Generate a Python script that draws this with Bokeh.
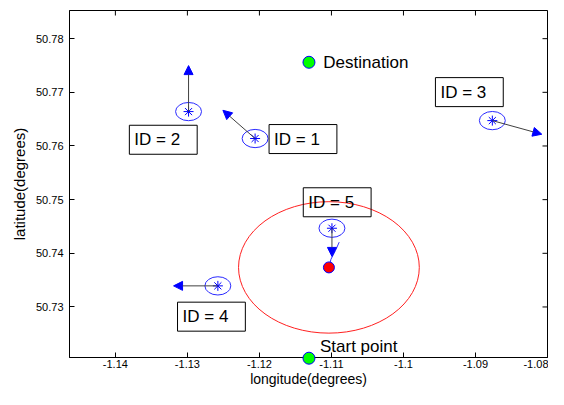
import math
from bokeh.plotting import figure
from bokeh.models import Range1d, FixedTicker, ColumnDataSource, Arrow, NormalHead
from bokeh.core.properties import value
from bokeh.embed import file_html
from bokeh.resources import INLINE

# ---- axes ----
x_ticks = [-1.14, -1.13, -1.12, -1.11, -1.10, -1.09, -1.08]
x_tick_labels = ["-1.14", "-1.13", "-1.12", "-1.11", "-1.1", "-1.09", "-1.08"]
y_ticks = [50.73, 50.74, 50.75, 50.76, 50.77, 50.78]
y_tick_labels = ["50.73", "50.74", "50.75", "50.76", "50.77", "50.78"]
x_limits = [-1.14637, -1.08]
y_limits = [50.72058, 50.78525]

# ---- agents ----
agent_ids = ["ID = 1", "ID = 2", "ID = 3", "ID = 4", "ID = 5"]
agent_lon = [-1.12060, -1.12984, -1.08766, -1.12577, -1.10993]
agent_lat = [50.76139, 50.76641, 50.76473, 50.73393, 50.74467]
heading_lon = [-1.12507, -1.12984, -1.08079, -1.13192, -1.10993]
heading_lat = [50.76665, 50.77498, 50.76219, 50.73393, 50.73942]
uncert_w = [0.0036, 0.0036, 0.0036, 0.0036, 0.0036]
uncert_h = [0.0034, 0.0034, 0.0034, 0.0034, 0.0034]
label_lon = [-1.11866, -1.13806, -1.09556, -1.13137, -1.11391]
label_lat = [50.76129, 50.76116, 50.77004, 50.72819, 50.74951]

# ID 5 short track
track5_lon = [-1.10892, -1.10944, -1.11007, -1.11021]
track5_lat = [50.74208, 50.74051, 50.73888, 50.73810]

# ---- start / destination / target ----
place_names = ["Destination", "Start point"]
place_lon = [-1.11312, -1.11312]
place_lat = [50.77560, 50.72045]
place_label_lon = [-1.11113, -1.11159]
place_label_lat = [50.77551, 50.72261]

target_lon = [-1.11035]
target_lat = [50.73737]
target_w = [0.0251]
target_h = [0.0245]

FONT = "Liberation Sans"

p = figure(width=548, height=389,
           x_range=Range1d(*x_limits), y_range=Range1d(*y_limits),
           output_backend="svg", toolbar_location=None,
           min_border_left=69, min_border_right=1, min_border_top=10, min_border_bottom=28,
           x_axis_label="longitude(degrees)", y_axis_label="latitude(degrees)")
p.grid.visible = False
p.outline_line_color = "black"
p.outline_line_width = 1
p.background_fill_color = "white"
p.border_fill_color = "white"


def style_axis(ax, ticks, labels):
    ax.ticker = FixedTicker(ticks=ticks)
    ax.major_label_overrides = {t: l for t, l in zip(ticks, labels)}
    ax.major_tick_in = 5
    ax.major_tick_out = 0
    ax.minor_tick_in = 0
    ax.minor_tick_out = 0
    ax.axis_line_color = "black"
    ax.major_tick_line_color = "black"
    ax.major_label_text_font = FONT
    ax.major_label_text_color = "black"
    ax.axis_label_text_font = FONT
    ax.axis_label_text_font_style = "normal"
    ax.axis_label_text_color = "black"


style_axis(p.xaxis[0], x_ticks, x_tick_labels)
p.xaxis[0].major_label_text_font_size = "11px"
p.xaxis[0].major_label_standoff = 2
p.xaxis[0].axis_label_text_font_size = "14px"
p.xaxis[0].axis_label_standoff = 0

style_axis(p.yaxis[0], y_ticks, y_tick_labels)
p.yaxis[0].major_label_text_font_size = "11px"
p.yaxis[0].major_label_standoff = 6
p.yaxis[0].axis_label_text_font_size = "15px"
p.yaxis[0].axis_label_standoff = 5

# inward ticks on the top and right edges of the box (half of each dash is clipped)
p.scatter(x=x_ticks, y=[y_limits[1]] * len(x_ticks), marker="dash", size=10,
          angle=math.pi / 2, line_color="black", line_width=1)
p.scatter(x=[x_limits[1]] * len(y_ticks), y=y_ticks, marker="dash", size=10,
          line_color="black", line_width=1)

# target search area
p.ellipse(x=target_lon, y=target_lat, width=target_w, height=target_h,
          fill_color=None, line_color="#ff2020", line_width=1)

agents = ColumnDataSource(dict(lon=agent_lon, lat=agent_lat, hx=heading_lon, hy=heading_lat,
                               w=uncert_w, h=uncert_h, lx=label_lon, ly=label_lat, name=agent_ids))

p.ellipse(x="lon", y="lat", width="w", height="h", source=agents,
          fill_color=None, line_color="#2a2aff", line_width=1)

p.line(track5_lon, track5_lat, line_color="#3030ff", line_width=1)

p.add_layout(Arrow(end=NormalHead(size=9, fill_color="#0000ff", line_color="#0000ff", line_width=1),
                   x_start="lon", y_start="lat", x_end="hx", y_end="hy", source=agents,
                   line_color="#404040", line_width=1))

p.scatter(x="lon", y="lat", source=agents, marker="asterisk", size=10,
          line_color="#0000ff", line_width=1)

places = ColumnDataSource(dict(lon=place_lon, lat=place_lat, lx=place_label_lon,
                               ly=place_label_lat, name=place_names))
pts = p.scatter(x="lon", y="lat", source=places, marker="circle", size=12,
                fill_color="#00ff00", line_color="#0000ff", line_width=1)
pts.level = "overlay"
p.scatter(x=target_lon, y=target_lat, marker="circle", size=11,
          fill_color="#ff0000", line_color="#0000ff", line_width=1)

p.text(x="lx", y="ly", text="name", source=places, text_font=value(FONT),
       text_font_size="17px", text_align="left", text_baseline="middle", text_color="black")

p.text(x="lx", y="ly", text="name", source=agents, text_font=value(FONT),
       text_font_size="17px", text_align="left", text_baseline="middle", text_color="black",
       padding=dict(left=5, right=17, top=5, bottom=5),
       border_line_color="black", border_line_width=1)

open("out.html", "w").write(file_html(p, INLINE))
